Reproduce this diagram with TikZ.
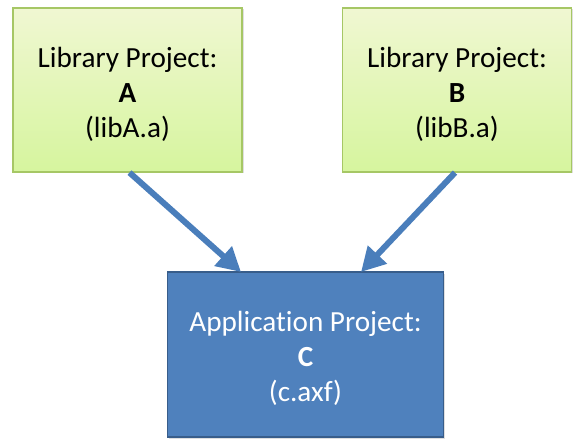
\documentclass[tikz,border=0pt]{standalone}
\usepackage{fontspec}
\setmainfont[Ligatures=NoCommon]{Carlito}
\usetikzlibrary{arrows.meta,shadows}
\definecolor{libfilltop}{HTML}{F0F7D2}
\definecolor{libfillbot}{HTML}{D6F59E}
\definecolor{libborder}{HTML}{A6C765}
\definecolor{appfill}{HTML}{4F81BD}
\definecolor{appborder}{HTML}{385D8A}
\definecolor{arrowcol}{HTML}{4A7EBB}
\tikzset{
  libbox/.style={draw=libborder, line width=1.2pt, top color=libfilltop, bottom color=libfillbot,
    minimum width=229pt, minimum height=164pt, inner sep=0pt,
    drop shadow={shadow xshift=1.5pt, shadow yshift=-1.5pt, opacity=0.25}},
  appbox/.style={draw=appborder, line width=1.6pt, fill=appfill,
    minimum width=276pt, minimum height=165pt, inner sep=0pt,
    drop shadow={shadow xshift=1.5pt, shadow yshift=-1.5pt, opacity=0.25}},
  boxtext/.style={align=center, inner sep=0pt, font=\fontsize{29.2pt}{35pt}\selectfont},
  deparrow/.style={draw=arrowcol, line width=6pt,
    -{Triangle[length=24pt,width=25pt]}}
}
\begin{document}
\begin{tikzpicture}[x=1pt,y=1pt]
\useasboundingbox (0,0) rectangle (583,445);
\node[libbox] (A) at (127.5,355) {};
\node[libbox] (B) at (457,355) {};
\node[appbox] (C) at (305.5,90.5) {};
\node[boxtext] (At) at ([yshift=-4pt]A.center) {Library Project:\\\textbf{A}\\(libA.a)};
\node[boxtext] (Bt) at ([yshift=-4pt]B.center) {Library Project:\\\textbf{B}\\(libB.a)};
\node[boxtext, text=white] (Ct) at ([yshift=-4pt]C.center) {Application Project:\\\textbf{C}\\(c.axf)};
\coordinate (Cl) at (241,173);
\coordinate (Cr) at (361,173);
\draw[deparrow] ([xshift=2pt]A.south) -- (Cl);
\draw[deparrow] ([xshift=-2pt]B.south) -- (Cr);
\end{tikzpicture}
\end{document}
